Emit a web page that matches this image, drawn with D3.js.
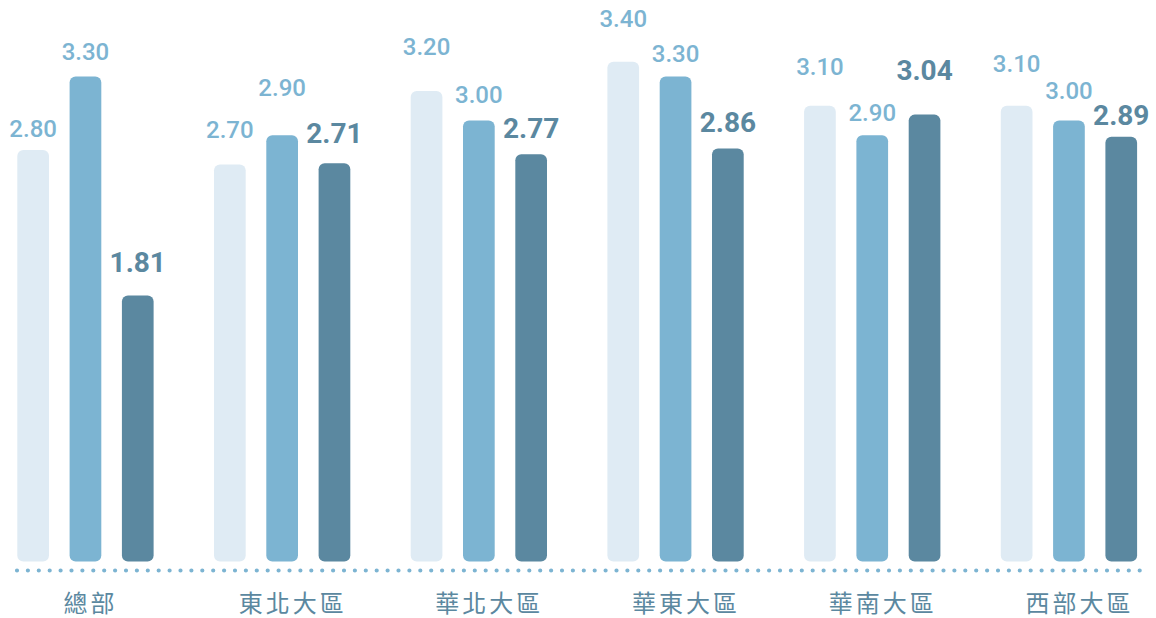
<!DOCTYPE html>
<html>
<head>
<meta charset="utf-8">
<script src="https://cdn.jsdelivr.net/npm/d3@7"></script>
<style>
  body { margin: 0; background: #fff; }
</style>
</head>
<body>
<svg id="chart" width="1156" height="618"></svg>
<script>
// categories
const regions = ["總部", "東北大區", "華北大區", "華東大區", "華南大區", "西部大區"];

// three series per region (light / mid / dark)
const seriesA = [2.80, 2.70, 3.20, 3.40, 3.10, 3.10];
const seriesB = [3.30, 2.90, 3.00, 3.30, 2.90, 3.00];
// dark bars as drawn; the 華東 bar sits lower than its printed label
const seriesC = [1.81, 2.71, 2.77, 2.81, 3.04, 2.89];
const seriesCLabels = ["1.81", "2.71", "2.77", "2.86", "3.04", "2.89"];

// label lift above each bar top (px) - hand nudged like the original
const labelLift = [
    [13, 16, 23], [27, 39, 20], [36, 18, 16],
    [35, 14, 16], [31, 14, 35], [34, 22, 12]
];

const colors = ["#dfebf4", "#7cb4d2", "#5b88a0"];
const labelColors = ["#7cb4d2", "#7cb4d2", "#5b88a0"];

const width = 1156, height = 618;
const baseY = 561.5;

const svg = d3.select("#chart");

const x0 = d3.scaleBand()
    .domain(regions)
    .range([17.3, 1137.1])
    .paddingInner(0.307)
    .paddingOuter(0)
    .align(0);

const x1 = d3.scaleBand()
    .domain([0, 1, 2])
    .range([0, x0.bandwidth()])
    .paddingInner(0.394)
    .paddingOuter(0);

const y = d3.scaleLinear()
    .domain([0, 3.4])
    .range([baseY, 61.7]);

const rows = regions.map((r, gi) => ({
    region: r,
    bars: [seriesA[gi], seriesB[gi], seriesC[gi]].map((v, si) => ({
        value: v,
        series: si,
        label: si === 2 ? seriesCLabels[gi] : v.toFixed(2),
        lift: labelLift[gi][si]
    }))
}));

const group = svg.append("g")
  .selectAll("g")
  .data(rows)
  .enter().append("g")
    .attr("transform", d => "translate(" + x0(d.region) + ",0)");

group.selectAll("rect")
  .data(d => d.bars)
  .enter().append("rect")
    .attr("x", d => x1(d.series))
    .attr("y", d => y(d.value))
    .attr("width", x1.bandwidth())
    .attr("height", d => baseY - y(d.value))
    .attr("rx", 6)
    .attr("fill", d => colors[d.series]);

group.selectAll("text.val")
  .data(d => d.bars)
  .enter().append("text")
    .attr("class", "val")
    .attr("x", d => x1(d.series) + x1.bandwidth() / 2)
    .attr("y", d => y(d.value) - d.lift)
    .attr("text-anchor", "middle")
    .attr("font-family", "Roboto, 'Noto Sans', sans-serif")
    .attr("font-size", d => d.series === 2 ? 28 : 24)
    .attr("font-weight", d => d.series === 2 ? 700 : 500)
    .attr("fill", d => labelColors[d.series])
    .text(d => d.label);

// dotted baseline
svg.append("line")
    .attr("x1", 17)
    .attr("x2", 1146)
    .attr("y1", 570.5)
    .attr("y2", 570.5)
    .attr("stroke", "#7cb4d2")
    .attr("stroke-width", 4.2)
    .attr("stroke-linecap", "round")
    .attr("stroke-dasharray", "0 10.9");

// category labels
svg.append("g")
  .selectAll("text")
  .data(regions)
  .enter().append("text")
    .attr("x", d => x0(d) + x0.bandwidth() / 2 + 2.75 * d.length - 0.5)
    .attr("y", 612)
    .attr("text-anchor", "middle")
    .attr("font-family", "'Noto Sans CJK TC', 'Noto Sans CJK SC', sans-serif")
    .attr("font-size", 24)
    .attr("font-weight", 400)
    .attr("letter-spacing", 3)
    .attr("fill", "#5b88a0")
    .text(d => d);
</script>
</body>
</html>
